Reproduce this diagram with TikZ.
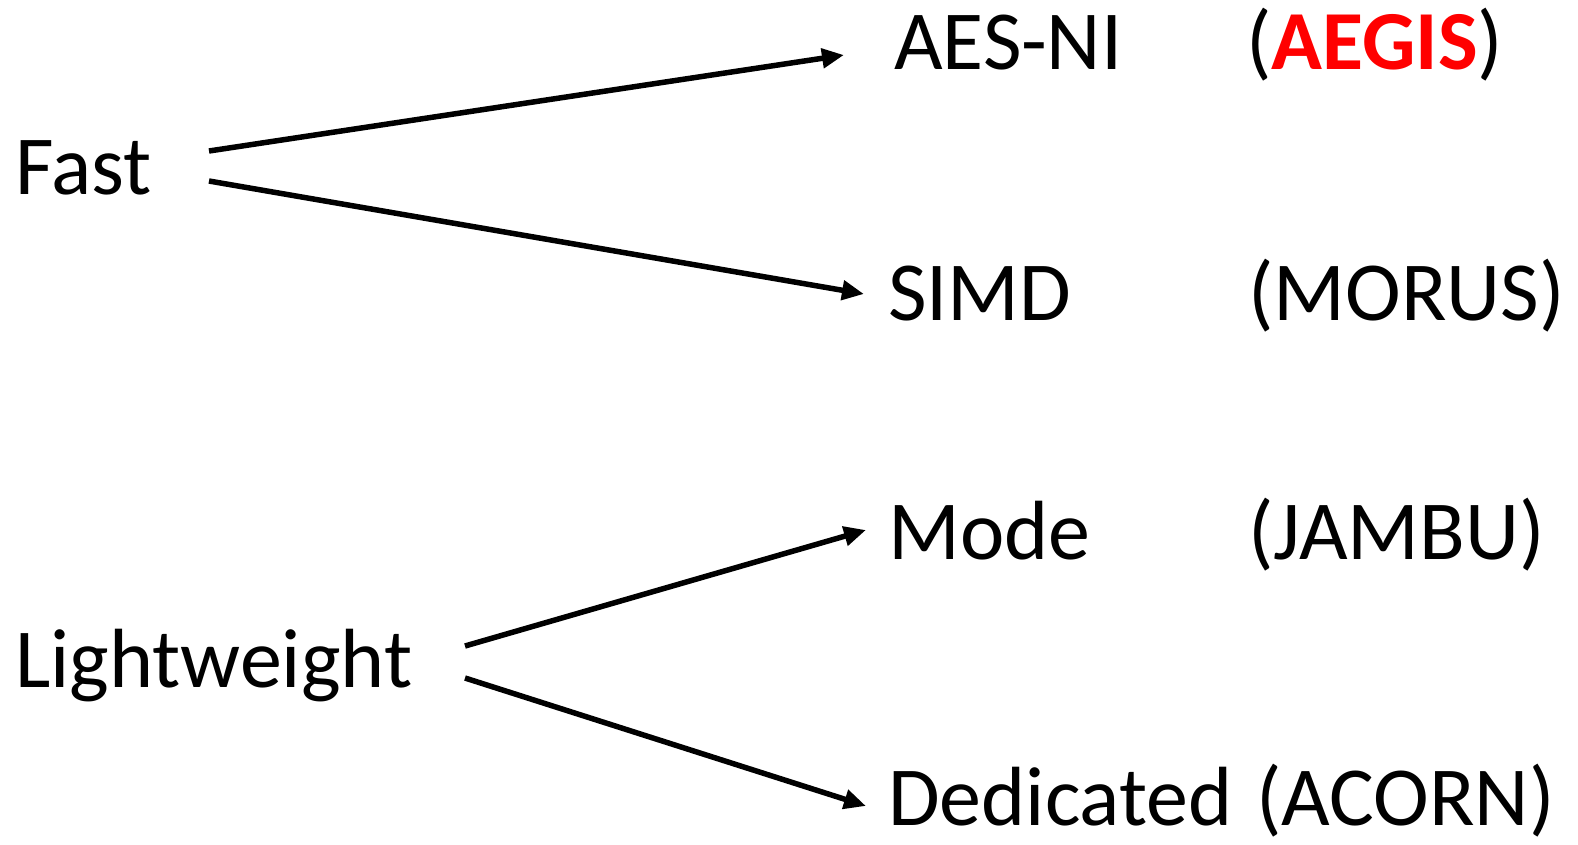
\documentclass[tikz,border=0pt]{standalone}
\usepackage{fontspec}
\setmainfont{Carlito}
\usetikzlibrary{arrows.meta}
\definecolor{aegisred}{RGB}{255,0,0}
\begin{document}
\begin{tikzpicture}[x=1pt,y=-1pt,
  lbl/.style={anchor=base west,inner sep=0pt,font=\fontsize{84}{100}\selectfont},
  arr/.style={line width=5.5pt,-{Triangle[length=22pt,width=19pt]}}]
\useasboundingbox (0,0) rectangle (1578,844);
\node[lbl] (fast) at (15,194) {Fast};
\node[lbl] (light) at (15,687) {Lightweight};
\node[lbl] (aesni) at (894,69) {AES-NI};
\node[lbl] (aegis) at (1246,69) {(\textcolor{aegisred}{\textbf{AEGIS}})};
\node[lbl] (simd) at (888,320) {SIMD};
\node[lbl] (morus) at (1248,320) {(MORUS)};
\node[lbl] (mode) at (888,559) {Mode};
\node[lbl] (jambu) at (1248,559) {(JAMBU)};
\node[lbl] (ded) at (888,825) {Dedicated};
\node[lbl] (acorn) at (1256,825) {(ACORN)};
\coordinate (f1) at (209,151);
\coordinate (f2) at (209,181);
\coordinate (l1) at (465,646);
\coordinate (l2) at (465,678);
\coordinate (a1) at (844,55);
\coordinate (s1) at (864,294);
\coordinate (m1) at (866,530);
\coordinate (d1) at (866,806);
\draw[arr] (f1) -- (a1);
\draw[arr] (f2) -- (s1);
\draw[arr] (l1) -- (m1);
\draw[arr] (l2) -- (d1);
\end{tikzpicture}
\end{document}
